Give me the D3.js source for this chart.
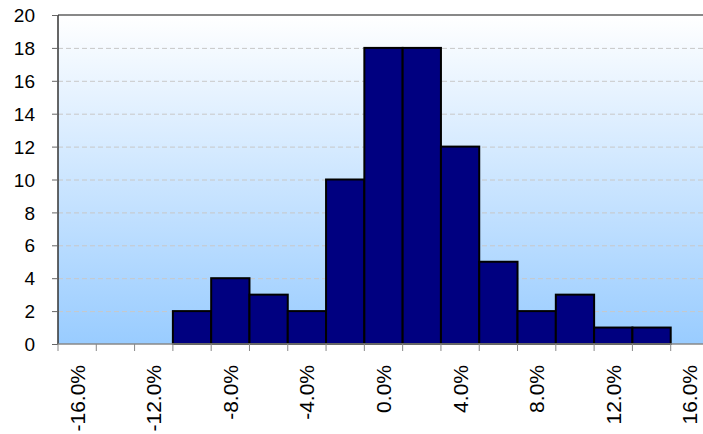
<!DOCTYPE html>
<html><head><meta charset="utf-8">
<script src="https://cdn.jsdelivr.net/npm/d3@7"></script>
<style>body{margin:0;background:#fff;overflow:hidden}svg{display:block}text{font-family:"Liberation Sans",Arial,sans-serif}</style>
</head><body><svg id="c" width="703" height="434"></svg>
<script>
const categories = [-16,-14,-12,-10,-8,-6,-4,-2,0,2,4,6,8,10,12,14,16];
const counts = [0,0,0,2,4,3,2,10,18,18,12,5,2,3,1,1,0];
const yTicks = [0,2,4,6,8,10,12,14,16,18,20];
const xLabelCats = [-16,-12,-8,-4,0,4,8,12,16];

const svg = d3.select("#c");
const L = 58, R = 709, T = 15, B = 344;
const x = d3.scaleBand().domain(categories).range([L, R]).padding(0);
const y = d3.scaleLinear().domain([0, 20]).range([B, T]);

const defs = svg.append("defs");
const g = defs.append("linearGradient").attr("id","bg").attr("x1",0).attr("y1",0).attr("x2",0).attr("y2",1);
g.append("stop").attr("offset","0%").attr("stop-color","#ffffff");
g.append("stop").attr("offset","100%").attr("stop-color","#99ccff");

svg.append("rect").attr("x",L).attr("y",T).attr("width",R-L).attr("height",B-T).attr("fill","url(#bg)");

// gridlines
svg.append("g").selectAll("line").data(yTicks.filter(d=>d>0&&d<20)).join("line")
  .attr("x1",L).attr("x2",R).attr("y1",d=>y(d)+0.5).attr("y2",d=>y(d)+0.5)
  .attr("stroke","#c8c8c8").attr("stroke-width",1).attr("stroke-dasharray","5,3");

// top border
svg.append("line").attr("x1",L).attr("x2",R).attr("y1",T).attr("y2",T).attr("stroke","#888").attr("stroke-width",2);

// bars
svg.append("g").selectAll("rect").data(categories.map((c,i)=>({c,v:counts[i]})).filter(d=>d.v>0)).join("rect")
  .attr("x",d=>x(d.c)).attr("y",d=>y(d.v)).attr("width",x.bandwidth()).attr("height",d=>B-y(d.v))
  .attr("fill","#000080").attr("stroke","#000").attr("stroke-width",2);

// y axis
const ya = d3.axisLeft(y).tickValues(yTicks).tickSize(6).tickPadding(17).tickFormat(d3.format("d"));
const yg = svg.append("g").attr("transform",`translate(${L},0)`).call(ya);
yg.select(".domain").attr("stroke","#333").attr("stroke-width",1.5).attr("d",`M0,${T}V${B}`);
yg.selectAll(".tick line").attr("stroke","#666");
yg.selectAll("text").style("font-size","19px").attr("fill","#000").attr("dy","0.35em");

// x axis
const xa = d3.axisBottom(x).tickValues([]).tickSize(0);
const xg = svg.append("g").attr("transform",`translate(0,${B})`).call(xa);
xg.select(".domain").attr("stroke","#888").attr("stroke-width",1.5).attr("d",`M${L},0H${R}`);
xg.selectAll(".bt").data(categories).join("line").attr("class","bt")
  .attr("x1",d=>x(d)).attr("x2",d=>x(d)).attr("y1",0).attr("y2",7).attr("stroke","#888");
xg.selectAll(".lb").data(xLabelCats).join("text").attr("class","lb")
  .attr("transform",d=>`translate(${x(d)+x.bandwidth()/2},21) rotate(-90)`)
  .attr("text-anchor","end").attr("dominant-baseline","central")
  .style("font-size","21px").attr("fill","#000")
  .text(d=>d.toFixed(1)+"%");
</script></body></html>
